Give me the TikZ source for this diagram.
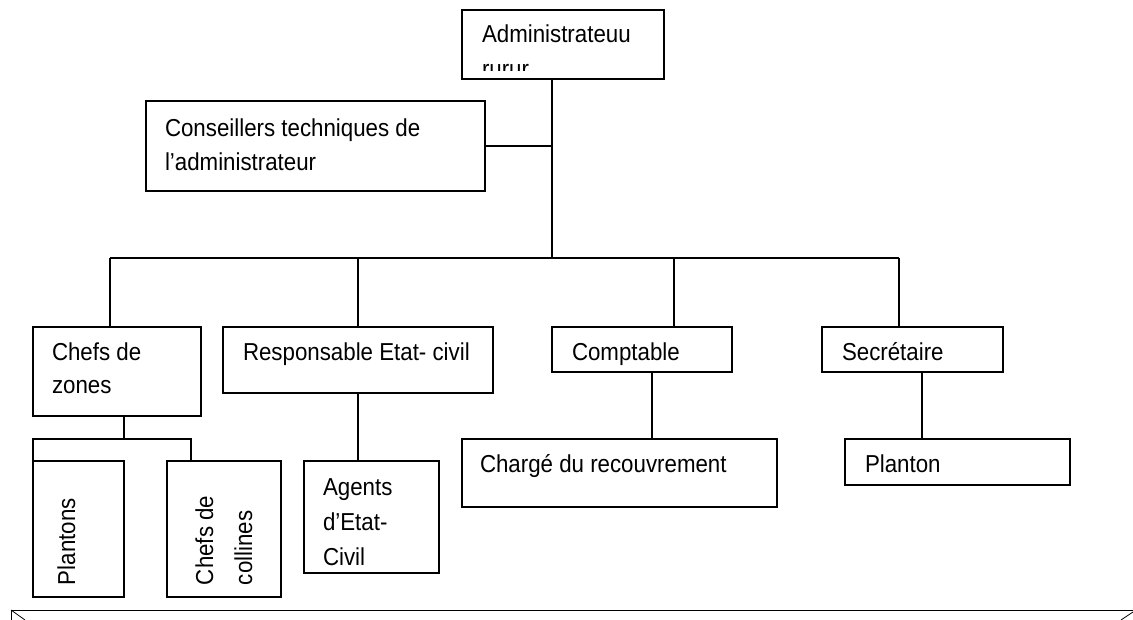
\documentclass[tikz,border=0pt]{standalone}
\usepackage{fontspec}
\setmainfont[FakeStretch=0.91]{Liberation Sans}
\usetikzlibrary{calc}
\tikzset{
  box/.style={draw, line width=1.6pt, rectangle, inner sep=0pt, outer sep=0pt, anchor=north west},
  txt/.style={inner sep=0pt, outer sep=0pt, align=left, anchor=base west, font=\fontsize{24.5}{34}\selectfont},
  wire/.style={line width=1.6pt}
}
\begin{document}
\begin{tikzpicture}[x=1pt,y=-1pt]
\useasboundingbox (0,0) rectangle (1133,620);
% boxes
\node[box, minimum width=202pt, minimum height=69pt] (admin) at (462,10) {};
\node[box, minimum width=339pt, minimum height=90pt] (cons) at (146,101) {};
\node[box, minimum width=168pt, minimum height=89pt] (chefs) at (33,327) {};
\node[box, minimum width=270pt, minimum height=66pt] (resp) at (223,327) {};
\node[box, minimum width=180pt, minimum height=45pt] (compt) at (552,327) {};
\node[box, minimum width=181pt, minimum height=45pt] (secr) at (822,327) {};
\node[box, minimum width=91pt, minimum height=136pt] (plantons) at (33,461) {};
\node[box, minimum width=114pt, minimum height=136pt] (collines) at (167,461) {};
\node[box, minimum width=135pt, minimum height=112pt] (agents) at (304,461) {};
\node[box, minimum width=315pt, minimum height=68pt] (charge) at (462,439) {};
\node[box, minimum width=225pt, minimum height=46pt] (planton) at (845,439) {};
% texts (base west = baseline of the last line)
\node[txt] (tadmin) at (482,43) {Administrateuu};
\begin{scope}
\clip (462,10) rectangle (664,70.5);
\node[txt] (tadmin2) at (482,78) {rurur};
\end{scope}
\node[txt] (tcons) at (165,171) {Conseillers techniques de\\l’administrateur};
\node[txt] (tchefs) at (52,394) {Chefs de\\zones};
\node[txt] (tresp) at (243,360) {Responsable Etat- civil};
\node[txt] (tcompt) at (572,360) {Comptable};
\node[txt] (tsecr) at (842,360) {Secrétaire};
\node[txt] (tcharge) at (480,472) {Chargé du recouvrement};
\node[txt] (tplanton) at (865,472) {Planton};
\node[txt, font=\fontsize{24.5}{35}\selectfont] (tagents) at (323,565) {Agents\\d’Etat-\\Civil};
\node[txt, rotate=90] (tplantons) at (75,585) {Plantons};
\node[txt, rotate=90, font=\fontsize{24.5}{39}\selectfont] (tcollines) at (252,585) {Chefs de\\collines};
% connector coordinates
\coordinate (spine) at (552,258);
\coordinate (d1) at (110,258);
\coordinate (d3) at (674,258);
\coordinate (d4) at (899,258);
\coordinate (zb) at (124,439);
\coordinate (zl) at (33,439);
\coordinate (zr) at (191,439);
\coordinate (c1) at (652,400);
\coordinate (s1) at (922,400);
% connectors
\draw[wire] (admin.south -| spine) -- (spine);
\draw[wire] (cons.east) -- (cons.east -| spine);
\draw[wire] (d1) -- (d4);
\draw[wire] (d1) -- (d1 |- chefs.north);
\draw[wire] (resp.north |- d1) -- (resp.north);
\draw[wire] (d3) -- (d3 |- compt.north);
\draw[wire] (d4) -- (d4 |- secr.north);
\draw[wire] (zb |- chefs.south) -- (zb);
\draw[wire] (plantons.north west) -- (zl) -- (zr) -- (zr |- collines.north);
\draw[wire] (resp.south) -- (resp.south |- agents.north);
\draw[wire] (c1 |- compt.south) -- (c1 |- charge.north);
\draw[wire] (s1 |- secr.south) -- (s1 |- planton.north);
% bottom edge
\coordinate (bl) at (11,610);
\coordinate (br) at (1133,610);
\draw[line width=1pt] (bl) -- (br);
\draw[line width=0.8pt] (bl) -- (11,620);
\draw[line width=0.8pt] (bl) -- (25,620);
\draw[line width=0.8pt] (1121,620) -- (1133,612);
\end{tikzpicture}
\end{document}
